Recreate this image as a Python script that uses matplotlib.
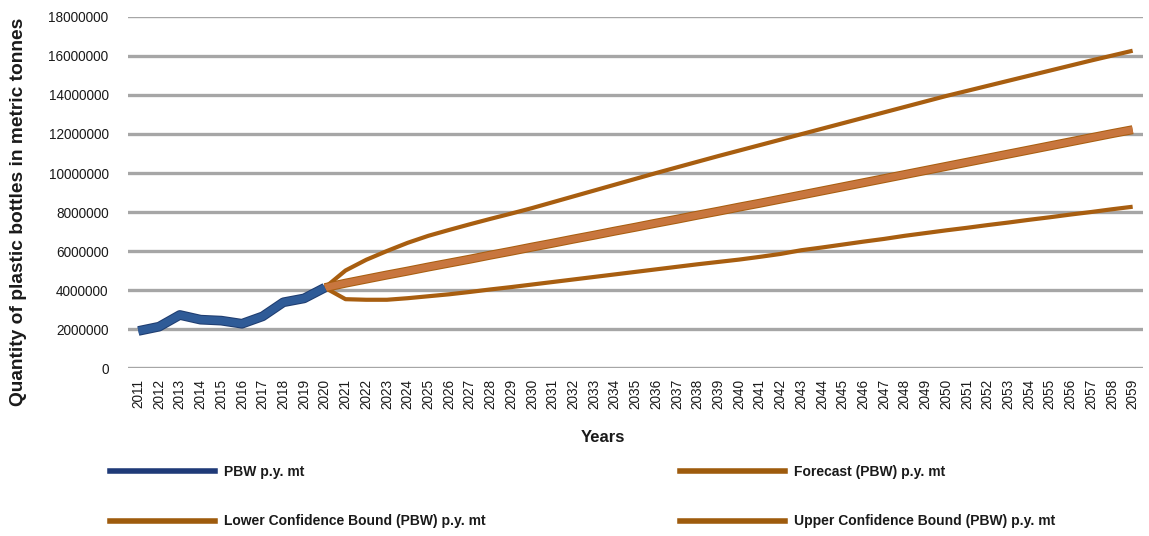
import matplotlib
matplotlib.use("Agg")
import matplotlib.pyplot as plt
import matplotlib.patheffects as pe
from matplotlib.lines import Line2D

years = [str(y) for y in range(2011, 2060)]

# observed PBW 2011-2020 (metric tonnes)
pbw = [1.90e6, 2.12e6, 2.72e6, 2.48e6, 2.43e6, 2.27e6, 2.65e6, 3.37e6, 3.57e6, 4.12e6]

# forecast and bounds 2020-2059
forecast = [4.12e6, 4.35e6, 4.56e6, 4.77e6, 4.97e6, 5.18e6, 5.38e6, 5.58e6, 5.79e6, 5.99e6,
            6.20e6, 6.40e6, 6.61e6, 6.81e6, 7.02e6, 7.22e6, 7.43e6, 7.63e6, 7.84e6, 8.04e6,
            8.25e6, 8.45e6, 8.66e6, 8.87e6, 9.08e6, 9.29e6, 9.50e6, 9.71e6, 9.92e6, 10.13e6,
            10.34e6, 10.55e6, 10.76e6, 10.97e6, 11.18e6, 11.39e6, 11.60e6, 11.81e6, 12.02e6, 12.22e6]
lower = [4.12e6, 3.53e6, 3.50e6, 3.50e6, 3.58e6, 3.68e6, 3.78e6, 3.90e6, 4.03e6, 4.15e6,
         4.28e6, 4.41e6, 4.54e6, 4.67e6, 4.80e6, 4.93e6, 5.06e6, 5.19e6, 5.32e6, 5.44e6,
         5.56e6, 5.70e6, 5.85e6, 6.04e6, 6.18e6, 6.33e6, 6.48e6, 6.62e6, 6.78e6, 6.92e6,
         7.06e6, 7.19e6, 7.33e6, 7.46e6, 7.60e6, 7.73e6, 7.87e6, 8.00e6, 8.14e6, 8.27e6]
upper = [4.12e6, 5.00e6, 5.55e6, 6.00e6, 6.42e6, 6.78e6, 7.08e6, 7.37e6, 7.65e6, 7.92e6,
         8.20e6, 8.50e6, 8.80e6, 9.10e6, 9.40e6, 9.70e6, 10.00e6, 10.29e6, 10.58e6, 10.87e6,
         11.15e6, 11.43e6, 11.71e6, 11.99e6, 12.27e6, 12.55e6, 12.83e6, 13.11e6, 13.39e6, 13.67e6,
         13.95e6, 14.21e6, 14.47e6, 14.73e6, 14.99e6, 15.25e6, 15.51e6, 15.77e6, 16.02e6, 16.27e6]

plt.rcParams['font.family'] = ['Liberation Sans', 'DejaVu Sans']

blue = '#2f5b97'
blue_edge = '#1f3d70'
orange = '#c8763e'
orange_dark = '#a85e10'

fig = plt.figure(figsize=(11.49, 5.36), dpi=100)
ax = fig.add_axes([0.1114, 0.3134, 0.8834, 0.6549])

x_obs = list(range(0, len(pbw)))
x_fc = list(range(len(pbw) - 1, len(pbw) - 1 + len(forecast)))

ax.plot(x_fc, lower, color=orange_dark, lw=3, solid_capstyle='butt', zorder=3)
ax.plot(x_fc, upper, color=orange_dark, lw=3, solid_capstyle='butt', zorder=3)
ax.plot(x_fc, forecast, color=orange, lw=5, solid_capstyle='butt', zorder=4,
        path_effects=[pe.Stroke(linewidth=6.5, foreground=orange_dark), pe.Normal()])
ax.plot(x_obs, pbw, color=blue, lw=5.5, solid_capstyle='butt', zorder=5,
        path_effects=[pe.Stroke(linewidth=7, foreground=blue_edge), pe.Normal()])

ax.set_xlim(-0.5, len(years) - 0.5)
ax.set_ylim(0, 18000000)
ax.set_yticks(range(0, 18000001, 2000000))
ax.set_yticklabels([str(v) for v in range(0, 18000001, 2000000)])
ax.set_xticks(range(len(years)))
ax.set_xticklabels(years, rotation=90)
ax.tick_params(axis='both', length=0, labelsize=9.8, colors='#1a1a1a')
ax.tick_params(axis='y', pad=14)
ax.tick_params(axis='x', pad=8)

for v in range(0, 18000001, 2000000):
    ax.axhline(v, color='#a6a6a6', lw=1.0 if v == 18000000 else 2.4, zorder=1)
for s in ax.spines.values():
    s.set_visible(False)

fig.text(0.016, 1 - 212 / 536, 'Quantity of plastic bottles in metric tonnes', rotation=90,
         ha='center', va='center', fontsize=13.8, fontweight='bold', color='#1a1a1a')
fig.text(603 / 1149, 1 - 437 / 536, 'Years', ha='center', va='center',
         fontsize=12, fontweight='bold', color='#1a1a1a')

legend_blue = '#1f3a78'
legend_orange = '#9e5b0d'
h_pbw = Line2D([], [], color=legend_blue, lw=4)
h_fc = Line2D([], [], color=legend_orange, lw=4)
h_lo = Line2D([], [], color=legend_orange, lw=4)
h_up = Line2D([], [], color=legend_orange, lw=4)

leg_kw = dict(frameon=False, fontsize=10, handlelength=7.55, handletextpad=0.65,
              labelspacing=2.55, borderpad=0, borderaxespad=0)
leg1 = fig.legend([h_pbw, h_lo], ['PBW p.y. mt', 'Lower Confidence Bound (PBW) p.y. mt'],
                  loc='upper left', bbox_to_anchor=(110 / 1149, 1 - 465 / 536), **leg_kw)
leg2 = fig.legend([h_fc, h_up], ['Forecast (PBW) p.y. mt', 'Upper Confidence Bound (PBW) p.y. mt'],
                  loc='upper left', bbox_to_anchor=(680 / 1149, 1 - 465 / 536), **leg_kw)
for leg in (leg1, leg2):
    for t in leg.get_texts():
        t.set_fontweight('bold')
        t.set_color('#1a1a1a')

fig.savefig('out.png', dpi=100)
